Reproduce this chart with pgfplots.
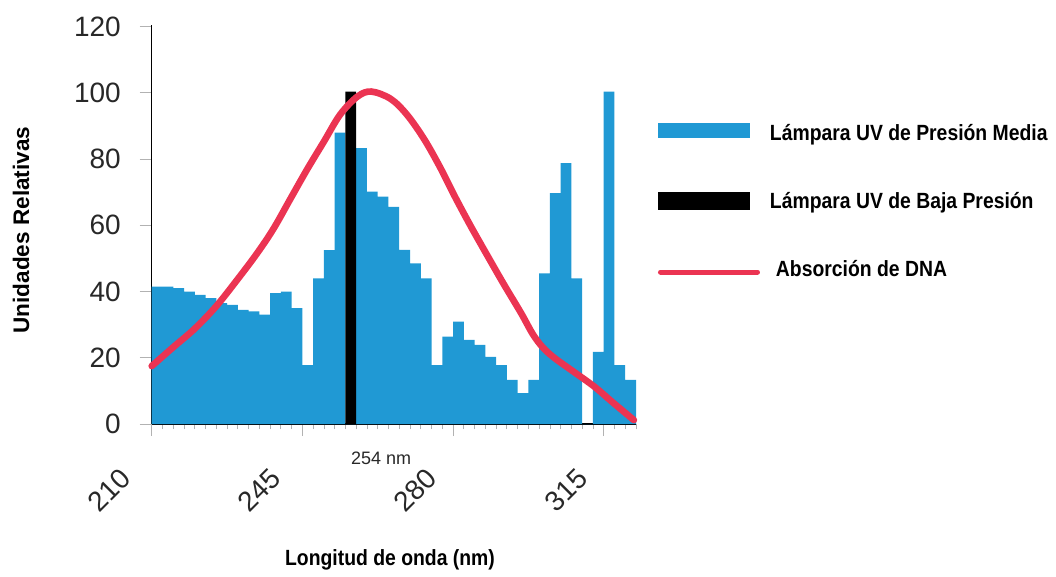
\documentclass[border=0pt]{standalone}
\usepackage{fontspec}
\setmainfont{Liberation Sans}
\newfontfamily\narrowfont[FakeStretch=0.88]{Liberation Sans}
\usepackage{pgfplots}
\pgfplotsset{compat=1.18}
\definecolor{uvblue}{RGB}{32,153,212}
\definecolor{dnared}{RGB}{235,52,82}
\definecolor{ticktext}{RGB}{40,40,40}

\pgfplotstableread{
x y
210 41.5
212.5 41.5
215 41
217.5 40
220 39
222.5 38
225 36.5
227.5 36
230 34.5
232.5 34
235 33
237.5 39.5
240 40
242.5 35
245 17.8
247.5 44
250 52.5
252.5 88
255 0
257.5 83.3
260 70.2
262.5 68.7
265 65.6
267.5 52.6
270 48.5
272.5 44
275 17.8
277.5 26.4
280 30.9
282.5 25.4
285 23.9
287.5 20.3
290 17.8
292.5 13.3
295 9.3
297.5 13.3
300 45.5
302.5 69.7
305 78.8
307.5 44
310 0
312.5 21.8
315 100.4
317.5 17.8
320 13.3
322.5 13.3
}\mediatable

\pgfplotstableread{
x y
255 100.4
257.5 100.4
}\lowtable

\pgfplotstableread{
x y
210 17.5
215 23.2
220 28.8
225 35.6
230 43.8
234.5 51.6
238.3 59
242.3 68.2
246.1 76.9
250 85.3
253.8 93.5
257.8 98.9
261 100.4
265.5 98.2
269.3 93.4
273.3 86
277 77.5
280.3 69
284 60
288 50.8
291.8 42.2
295.8 33.5
298.5 27.2
300.8 23.2
303.5 20
308 15.8
312.8 11.3
317.3 6.3
322 1.2
}\dnatable

\begin{document}
\begin{tikzpicture}
\useasboundingbox (-113.8pt,-114pt) rectangle (678.2pt,318pt);
\begin{axis}[
  at={(0pt,0pt)}, anchor=south west,
  scale only axis, width=363.2pt, height=299.25pt,
  xmin=210, xmax=322.5, ymin=0, ymax=120.5,
  axis lines*=left,
  axis line style={black, line width=1.1pt},
  clip=false,
  xtick={210,245,280,315},
  xticklabels={},
  ytick={0,20,...,120},
  minor xtick={210,212.5,...,322.5},
  tick align=outside,
  major tick length=9pt,
  minor tick length=4pt,
  tick style={gray!60, line width=0.6pt},
  tick label style={font=\fontsize{21}{21}\selectfont, text=ticktext},
  /pgf/number format/assume math mode=true,
  yticklabel style={inner sep=0pt, xshift=-14pt},
  xlabel={Longitud de onda (nm)},
  ylabel={Unidades Relativas},
  xlabel style={at={(axis description cs:0.492,-0.341)}, anchor=center, font=\fontsize{16.5}{18}\narrowfont\bfseries},
  ylabel style={at={(axis description cs:-0.27,0.486)}, anchor=center, font=\fontsize{16.9}{18}\selectfont\bfseries},
  legend style={at={(axis description cs:1.0454,0.7544)}, anchor=north west, draw=none, fill=none,
    inner sep=0pt, outer sep=0pt, row sep=38.05pt, column sep=7.5pt,
    font=\fontsize{16.5}{18}\narrowfont\bfseries,
    nodes={inner sep=0pt, text height=12pt, text depth=0pt}},
  legend cell align=left,
]
\addplot[const plot, fill=uvblue, draw=none,
  legend image code/.code={\fill[uvblue] (0pt,-3.8pt) rectangle (69pt,7.4pt);}]
  table[x=x,y=y]{\mediatable} \closedcycle;
\addlegendentry{Lámpara UV de Presión Media}
\addplot[const plot, fill=black, draw=none,
  legend image code/.code={\fill[black] (0pt,-6.75pt) rectangle (69pt,6.75pt);}]
  table[x=x,y=y]{\lowtable} \closedcycle;
\addlegendentry{Lámpara UV de Baja Presión}
\addplot[smooth, tension=0.55, dnared, line width=5pt, line cap=round,
  legend image code/.code={\draw[dnared, line width=3.75pt, line cap=round] (1.5pt,-2.8pt) -- (74.25pt,-2.8pt);}]
  table[x=x,y=y]{\dnatable};
\addlegendentry{\hspace{4.5pt}Absorción de DNA}
\node[font=\fontsize{13.5}{14}\selectfont, text=ticktext, yshift=-25.5pt] at (axis cs:263.3,0) {254 nm};
\path (axis cs:210,0) ++(-24.5pt,-32pt) node[anchor=north east, rotate=45, inner sep=0pt, font=\fontsize{21}{21}\selectfont, text=ticktext] {210};
\path (axis cs:245,0) ++(-25pt,-32pt) node[anchor=north east, rotate=45, inner sep=0pt, font=\fontsize{21}{21}\selectfont, text=ticktext] {245};
\path (axis cs:280,0) ++(-21pt,-32pt) node[anchor=north east, rotate=45, inner sep=0pt, font=\fontsize{21}{21}\selectfont, text=ticktext] {280};
\path (axis cs:315,0) ++(-20.8pt,-32pt) node[anchor=north east, rotate=45, inner sep=0pt, font=\fontsize{21}{21}\selectfont, text=ticktext] {315};
\end{axis}
\end{tikzpicture}
\end{document}
